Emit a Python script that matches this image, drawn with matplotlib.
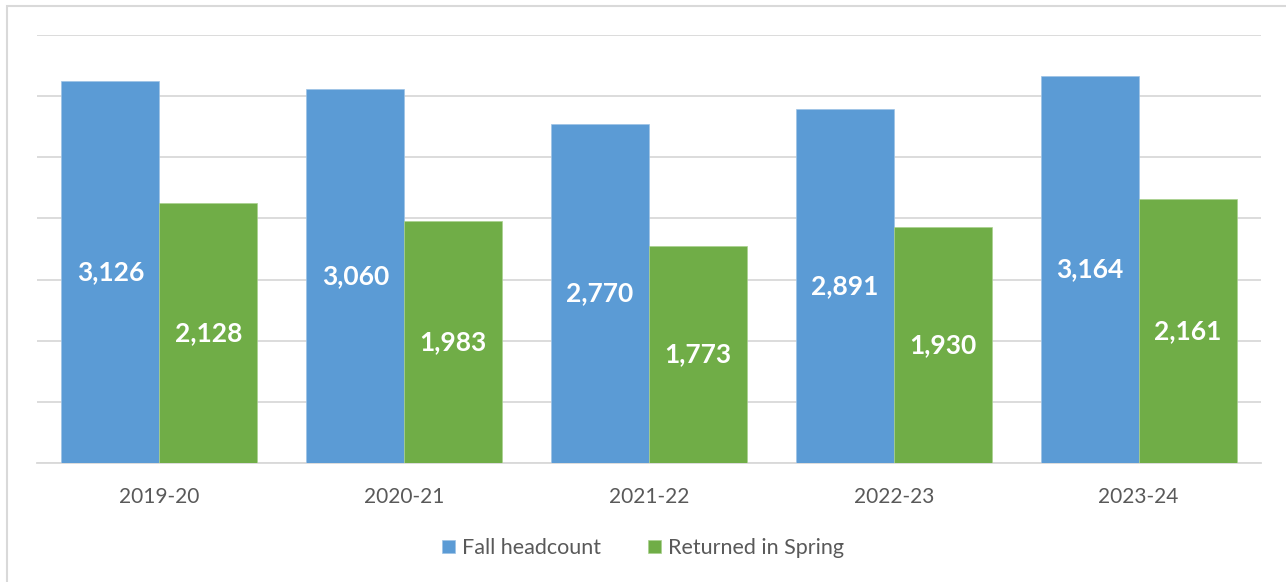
import numpy as np
import matplotlib.pyplot as plt
from matplotlib.patches import Rectangle

years = ['2019-20', '2020-21', '2021-22', '2022-23', '2023-24']
fall = [3126, 3060, 2770, 2891, 3164]
spring = [2128, 1983, 1773, 1930, 2161]

blue = '#5b9bd5'
green = '#70ad47'
grey = '#595959'
font = 'Lato'

W, H = 1286, 582
fig = plt.figure(figsize=(W / 100, H / 100), dpi=100)
ax = fig.add_axes([37 / W, 1 - 463 / H, (1261 - 37) / W, (463 - 35) / H])

# figure frame (left/top visible)
fig.add_artist(Rectangle((6.5 / W, -0.1), 1.2, 1 - 5.5 / H + 0.1, transform=fig.transFigure,
                         fill=False, edgecolor='#d9d9d9', linewidth=1.5))

x = np.arange(len(years))
bw = 0.4
b1 = ax.bar(x - bw / 2, fall, bw, color=blue, edgecolor='#9dc3e6', linewidth=0.5,
            label='Fall headcount', zorder=3)
b2 = ax.bar(x + bw / 2, spring, bw, color=green, edgecolor='#a9d18e', linewidth=0.5,
            label='Returned in Spring', zorder=3)

for bars in (b1, b2):
    for r in bars:
        v = r.get_height()
        ax.text(r.get_x() + r.get_width() / 2, v / 2, f'{v:,}', ha='center', va='center',
                color='white', fontsize=19, fontweight='bold', family=font, zorder=4)

ax.set_xlim(-0.5, len(years) - 0.5)
ax.set_ylim(0, 3500)
ax.set_yticks(np.arange(0, 3501, 500))
ax.yaxis.grid(True, color='#d9d9d9', linewidth=1.3)
ax.set_axisbelow(True)
ax.tick_params(axis='y', left=False, labelleft=False)
ax.tick_params(axis='x', length=0, pad=17, labelsize=15, labelcolor=grey)
ax.set_xticks(x)
ax.set_xticklabels(years, family=font)
for s in ['top', 'right', 'left']:
    ax.spines[s].set_visible(False)
ax.spines['bottom'].set_color('#d9d9d9')
ax.spines['bottom'].set_linewidth(1.3)

leg = ax.legend(loc='center', bbox_to_anchor=(0.5, 1 - 548 / H), bbox_transform=fig.transFigure,
                ncol=2, frameon=False, handlelength=0.6, handleheight=0.6, handletextpad=0.3,
                columnspacing=2.2, prop={'family': font, 'size': 15.5})
for t in leg.get_texts():
    t.set_color(grey)

fig.savefig('out.png', dpi=100)
